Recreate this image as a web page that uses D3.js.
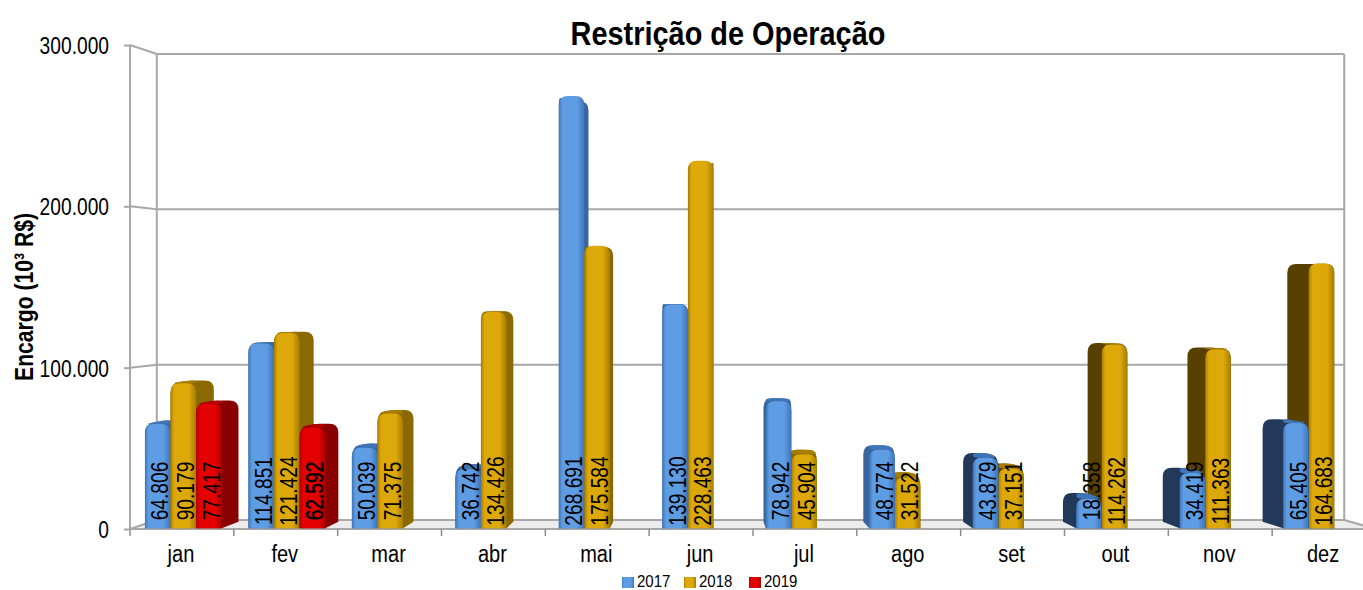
<!DOCTYPE html>
<html><head><meta charset="utf-8">
<script src="https://cdn.jsdelivr.net/npm/d3@7"></script>
<style>html,body{margin:0;padding:0;background:#fff;overflow:hidden}svg{display:block}
text{font-family:"Liberation Sans",sans-serif;fill:#000}</style></head><body>
<svg id="c" width="1363" height="590"></svg>
<script>
const months=["jan","fev","mar","abr","mai","jun","jul","ago","set","out","nov","dez"];
const seriesNames=["2017","2018","2019"];
const v2017=[64806,114851,50039,36742,268691,139130,78942,48774,43879,18358,34419,65405];
const v2018=[90179,121424,71375,134426,175584,228463,45904,31522,37151,114262,111363,164683];
const v2019=[77417,62592,null,null,null,null,null,null,null,null,null,null];
const yTicks=[0,100000,200000,300000];
const colors={
 "2017":{edge:"#3f74b8",mid:"#5e9ce4",sideL:"#22395a",sideR:"#3a669e"},
 "2018":{edge:"#a87c00",mid:"#dca80a",sideL:"#574000",sideR:"#8a6a00"},
 "2019":{edge:"#b00000",mid:"#e40000",sideL:"#7a0000",sideR:"#8a0000"}
};
const values={"2017":v2017,"2018":v2018,"2019":v2019};

const svg=d3.select("#c");
const x=d3.scaleBand(months,[130,1376]);
const y=d3.scaleLinear([0,300000],[529,45]);
const slot=d3.scaleBand(seriesNames,[13,90]);
const vpX=700,vpY=287,kx=0.047,ky=0.037,z0=0.075,z1=0.82;
const P=(X,Y,z)=>[X+(vpX-X)*kx*z,Y+(vpY-Y)*ky*z];
const line=d3.line();
function narrow(sel,f){sel.each(function(){
 this.setAttribute("textLength",this.getComputedTextLength()*f);
 this.setAttribute("lengthAdjust","spacingAndGlyphs");
});}

const defs=svg.append("defs");
seriesNames.forEach(s=>{
 const g=defs.append("linearGradient").attr("id","g"+s);
 [[0,colors[s].edge],[.14,colors[s].mid],[.72,colors[s].mid],[1,colors[s].edge]]
 .forEach(([o,c])=>g.append("stop").attr("offset",o).attr("stop-color",c));
});

const X0=130,X1=1376,wallTop=y(300000),wallBase=y(0);
svg.append("path").attr("fill","#ececec").attr("d",line([P(X0,wallBase,0),P(X0,wallBase,1),P(X1,wallBase,1),P(X1,wallBase,0)])+"Z");
const gridG=svg.append("g").attr("fill","none").attr("stroke","#a8a8a8").attr("stroke-width",2);
yTicks.forEach(t=>{
 gridG.append("path").attr("d",line([P(X0,y(t),0),P(X0,y(t),1),P(X1,y(t),1)]));
});
gridG.append("path").attr("d",line([P(X0,wallTop,1),P(X0,wallBase,1)]));
gridG.append("path").attr("d",line([P(X1,wallTop,1),P(X1,wallBase,1),P(X1,wallBase,0)]));
gridG.append("path").attr("d",line([[X0,wallTop],[X0,wallBase+7]]));
gridG.append("path").attr("d",line([[X0,wallBase],[1363,wallBase]]));
svg.append("g").attr("stroke","#8c8c8c").attr("stroke-width",1.5)
 .selectAll("line").data(months).join("line")
 .attr("x1",d=>x(d)+x.bandwidth()).attr("x2",d=>x(d)+x.bandwidth())
 .attr("y1",wallBase).attr("y2",wallBase+7);

const loc=d3.formatLocale({decimal:",",thousands:".",grouping:[3],currency:["",""]});
const fmt=loc.format(",d");
const yAxis=svg.append("g").attr("transform","translate(130,0)")
 .call(d3.axisLeft(y).tickValues(yTicks).tickFormat(fmt).tickSize(6).tickPadding(15));
yAxis.select(".domain").remove();
yAxis.selectAll("line").attr("stroke","#a8a8a8").attr("stroke-width",2);
yAxis.selectAll("text").style("font-size","24px").attr("fill","#000").attr("dy","0.36em").call(narrow,0.8);
const xAxis=svg.append("g").attr("transform","translate(0,529)")
 .call(d3.axisBottom(x).tickSize(0).tickPadding(17));
xAxis.select(".domain").remove();
xAxis.selectAll("text").style("font-size","23px").attr("fill","#000").attr("dx","-1").call(narrow,0.87);

function rounded(pts,r,flags){
 const n=pts.length;let d="";
 pts.forEach((p,i)=>{
  const a=pts[(i-1+n)%n],b=pts[(i+1)%n];
  if(!flags[i]){d+=(i?"L":"M")+p[0]+","+p[1];return;}
  const da=Math.hypot(a[0]-p[0],a[1]-p[1]),db=Math.hypot(b[0]-p[0],b[1]-p[1]);
  const ra=Math.min(r,da/2),rb=Math.min(r,db/2);
  const s=[p[0]+(a[0]-p[0])*ra/da,p[1]+(a[1]-p[1])*ra/da];
  const e=[p[0]+(b[0]-p[0])*rb/db,p[1]+(b[1]-p[1])*rb/db];
  d+=(i?"L":"M")+s[0]+","+s[1]+"Q"+p[0]+","+p[1]+" "+e[0]+","+e[1];
 });
 return d+"Z";
}

const bars=[];
months.forEach((m,i)=>{
 seriesNames.forEach((s,j)=>{
  const v=values[s][i];
  if(v==null)return;
  bars.push({m,s,v,i,j,xl:x(m)+slot(s),xr:x(m)+slot(s)+slot.bandwidth()});
 });
});
const drawOrder=[...bars].sort((a,b)=>{
 const ca=(a.xl+a.xr)/2,cb=(b.xl+b.xr)/2;
 if(a.i!==b.i)return Math.abs(cb-vpX)-Math.abs(ca-vpX);
 return ca<vpX?a.j-b.j:b.j-a.j;
});
const barG=svg.append("g");
drawOrder.forEach(b=>{
 const c=colors[b.s],t=y(b.v),base=y(0);
 const FL=P(b.xl,t,z0),FR=P(b.xr,t,z0),BL=P(b.xl,t,z1),BR=P(b.xr,t,z1);
 const FBL=P(b.xl,base,z0),FBR=P(b.xr,base,z0),BBL=P(b.xl,base,z1),BBR=P(b.xr,base,z1);
 const right=FR[0]<vpX;
 const near=Math.abs(b.xl-vpX)<220;
 const g=barG.append("g");
 const sil=right?[FBL,FL,BL,BR,BBR,FBR]:[FBR,FR,BR,BL,BBL,FBL];
 g.append("path").attr("d",rounded(sil,9,[0,1,1,1,0,0])).attr("fill",(right||near)?c.sideR:c.sideL);
 if(BL[1]<FL[1]){
  const top=right?[FL,BL,[FR[0],BR[1]],FR]:[FR,BR,[FL[0],BL[1]],FL];
  g.append("path").attr("d",rounded(top,6,[1,1,1,1])).attr("fill",c.edge);
 }
 g.append("path").attr("fill","url(#g"+b.s+")")
  .attr("d",rounded([FBL,FL,FR,FBR],9,[0,1,1,0]));
});

const labelG=svg.append("g");
bars.forEach(b=>{
 const cx=P((b.xl+b.xr)/2,y(0),z0)[0]+2;
 const heavy=b.s==="2019"&&b.m==="fev";
 labelG.append("text").text(fmt(b.v))
  .attr("transform",`translate(${cx},491) rotate(-90)`)
  .attr("text-anchor","middle").attr("dy","0.36em")
  .style("font-size","24px")
  .style("stroke",heavy?"#000":"none").style("stroke-width",heavy?0.6:0)
  .call(narrow,0.8);
});

svg.append("text").text("Restrição de Operação").attr("x",728).attr("y",45)
 .attr("text-anchor","middle").style("font-size","34px").style("font-weight","bold").call(narrow,0.85);
svg.append("text").text("Encargo (10³ R$)").attr("transform","translate(33,297) rotate(-90)")
 .attr("text-anchor","middle").style("font-size","25px").style("font-weight","bold").call(narrow,0.845);

const legendX=d3.scaleOrdinal(seriesNames,[622,684,749]);
const lg=svg.append("g").selectAll("g").data(seriesNames).join("g")
 .attr("transform",d=>`translate(${legendX(d)},577)`);
lg.append("rect").attr("width",12).attr("height",11).attr("fill",d=>"url(#g"+d+")");
lg.append("text").text(d=>d).attr("x",15).attr("y",9.5).style("font-size","16.5px").call(narrow,0.91);
</script></body></html>
